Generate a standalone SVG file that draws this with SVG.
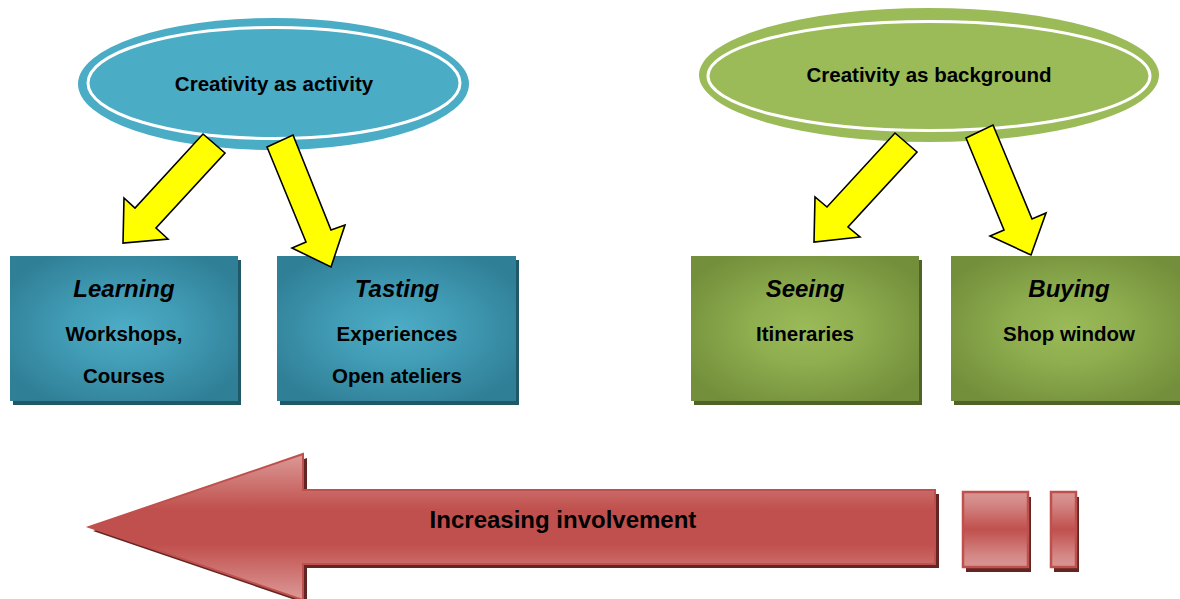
<svg xmlns="http://www.w3.org/2000/svg" width="1180" height="599" viewBox="0 0 1180 599">
<defs>
<radialGradient id="gBlue" cx="0.5" cy="0.5" r="0.6">
<stop offset="0" stop-color="#4dacc6"/>
<stop offset="0.4" stop-color="#429db6"/>
<stop offset="1" stop-color="#2f7f96"/>
</radialGradient>
<radialGradient id="gGreen" cx="0.5" cy="0.5" r="0.6">
<stop offset="0" stop-color="#9bbb59"/>
<stop offset="0.4" stop-color="#8eae4f"/>
<stop offset="1" stop-color="#738f3b"/>
</radialGradient>
<linearGradient id="gRed" x1="0" y1="0" x2="0" y2="1">
<stop offset="0" stop-color="#dc9a98"/>
<stop offset="0.38" stop-color="#c0504d"/>
<stop offset="0.62" stop-color="#c0504d"/>
<stop offset="1" stop-color="#dc9a98"/>
</linearGradient>
<linearGradient id="gRedSq" x1="0" y1="0" x2="0" y2="1">
<stop offset="0" stop-color="#d99694"/>
<stop offset="0.15" stop-color="#d38886"/>
<stop offset="0.5" stop-color="#c0504d"/>
<stop offset="0.85" stop-color="#d38886"/>
<stop offset="1" stop-color="#d99694"/>
</linearGradient>
</defs>
<style>
text{font-family:"Liberation Sans",Arial,Helvetica,sans-serif;font-weight:bold;fill:#000;text-anchor:middle}
.t{font-size:20.5px}
.h{font-size:24px;font-style:italic}
.ring{fill:none;stroke:#fff;stroke-width:3}
.bshadow{fill:#215868}
.gshadow{fill:#4f6228}
.blue{fill:url(#gBlue)}
.green{fill:url(#gGreen)}
.yel{fill:#ffff00;stroke:#000;stroke-width:1.6;stroke-linejoin:miter}
.rshadow{fill:#632523}
.red{fill:url(#gRed);stroke:#c0504d;stroke-width:2}
.redsq{fill:url(#gRedSq);stroke:#c0504d;stroke-width:2.5}
</style>

<g id="activity">
<ellipse cx="273.5" cy="84" rx="195.5" ry="66" fill="#4bacc6"/>
<ellipse class="ring" cx="274" cy="83" rx="186" ry="55.5"/>
<text class="t" x="274" y="91">Creativity as activity</text>
</g>

<g id="background">
<ellipse cx="929" cy="75" rx="230" ry="67" fill="#9bbb59"/>
<ellipse class="ring" cx="929" cy="76" rx="221" ry="54.5"/>
<text class="t" x="929" y="82">Creativity as background</text>
</g>

<g id="learning">
<rect class="bshadow" x="13" y="260" width="228" height="145"/>
<rect class="blue" x="10" y="256" width="228" height="145"/>
<text class="h" x="124" y="297">Learning</text>
<text class="t" x="124" y="341">Workshops,</text>
<text class="t" x="124" y="383">Courses</text>
</g>

<g id="tasting">
<rect class="bshadow" x="280" y="260" width="239" height="145"/>
<rect class="blue" x="277" y="256" width="239" height="145"/>
<text class="h" x="397" y="297">Tasting</text>
<text class="t" x="397" y="341">Experiences</text>
<text class="t" x="397" y="383">Open ateliers</text>
</g>

<g id="seeing">
<rect class="gshadow" x="694" y="260" width="228" height="145"/>
<rect class="green" x="691" y="256" width="228" height="145"/>
<text class="h" x="805" y="297">Seeing</text>
<text class="t" x="805" y="341">Itineraries</text>
</g>

<g id="buying">
<rect class="gshadow" x="954" y="260" width="236" height="145"/>
<rect class="green" x="951" y="256" width="236" height="145"/>
<text class="h" x="1069" y="297">Buying</text>
<text class="t" x="1069" y="341">Shop window</text>
</g>

<g id="connectors">
<polygon class="yel" points="203,134 225,153 156,228 168,239 123,243 124,198 135,208"/>
<polygon class="yel" points="267,147 293,135 331,230 345,225 331,267 292,248 306,242"/>
<polygon class="yel" points="895,133 917,152 848,227 860,237 814,242 815,197 827,207"/>
<polygon class="yel" points="966,138 993,125 1032,219 1046,213 1031,255 990,236 1004,230"/>
</g>

<g id="involvement">
<polygon class="rshadow" points="93,531 307,458 307,494 939,494 939,568 307,568 307,604"/>
<polygon class="red" points="89,527 303,454 303,490 935,490 935,564 303,564 303,600"/>
<rect class="rshadow" x="966" y="497" width="65" height="75"/>
<rect class="redsq" x="963" y="492" width="65" height="75"/>
<rect class="rshadow" x="1054" y="497" width="25" height="75"/>
<rect class="redsq" x="1051" y="492" width="25" height="75"/>
<text x="563" y="528" style="font-size:24px">Increasing involvement</text>
</g>
</svg>
